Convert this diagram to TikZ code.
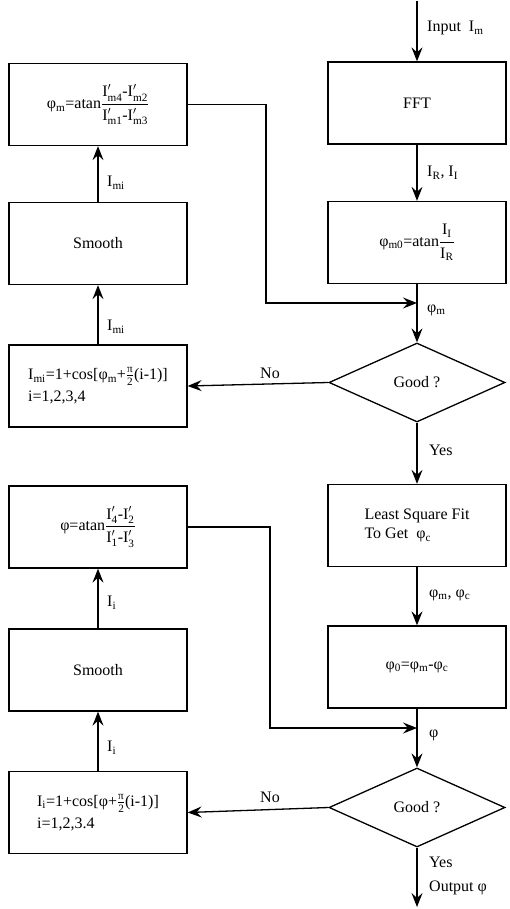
\documentclass[tikz,border=0pt]{standalone}
\usepackage{fontspec}
\setmainfont{Liberation Serif}
\usepackage{amsmath}
\usetikzlibrary{arrows.meta, shapes.geometric}
\newcommand{\Ipr}[1]{\mathrm{I}'_{\mathrm{#1}}}
\newcommand{\halfpi}{\frac{\text{π}}{\text{2}}}

\begin{document}
\begin{tikzpicture}[x=1pt, y=-1pt,
  stepbox/.style={draw, line width=1.3pt, minimum width=178pt, minimum height=82pt, inner sep=3pt, font=\fontsize{16}{19}\selectfont, align=center},
  decision/.style={diamond, draw, line width=1.3pt, minimum width=176pt, minimum height=79pt, aspect=2.2, inner sep=0pt, font=\fontsize{16}{18}\selectfont},
  lbl/.style={font=\fontsize{16}{18}\selectfont, inner sep=1pt},
  flow/.style={line width=1.3pt, -{Stealth[length=14pt, width=11pt, inset=5pt]}},
]
  \useasboundingbox (0,0) rectangle (509,909);

  % Main column
  \coordinate (in) at (417,1);
  \node[stepbox] (fft) at (417,103) {FFT};
  \node[stepbox] (phim0) at (417,242.5) {φ\textsubscript{m0}=atan$\dfrac{\text{I\textsubscript{I}}}{\text{I\textsubscript{R}}}$};
  \node[decision] (good1) at (417,382.5) {Good ?};
  \node[stepbox, align=left] (lsf) at (417,525.5) {Least Square Fit\\To Get\ \ φ\textsubscript{c}};
  \node[stepbox] (phi0) at (417,667) {φ\textsubscript{0}=φ\textsubscript{m}-φ\textsubscript{c}};
  \node[decision] (good2) at (417,807.5) {Good ?};
  \coordinate (out) at (417,907);

  % Left column
  \node[stepbox] (phim) at (98,104.5) {φ\textsubscript{m}=atan$\dfrac{\Ipr{m4}\text{-}\Ipr{m2}}{\Ipr{m1}\text{-}\Ipr{m3}}$};
  \node[stepbox] (smooth1) at (98,243.5) {Smooth};
  \node[stepbox, align=left] (imi) at (98,386) {I\textsubscript{mi}=1+cos[φ\textsubscript{m}+$\halfpi$(i-1)]\\[3pt]i=1,2,3,4};
  \node[stepbox] (phi) at (98,527) {φ=atan$\dfrac{\Ipr{4}\text{-}\Ipr{2}}{\Ipr{1}\text{-}\Ipr{3}}$};
  \node[stepbox] (smooth2) at (98,670) {Smooth};
  \node[stepbox, align=left] (ii) at (98,812.5) {I\textsubscript{i}=1+cos[φ+$\halfpi$(i-1)]\\[3pt]i=1,2,3.4};

  % Junctions of the feedback lines
  \coordinate (j1) at (417,303);
  \coordinate (k1) at (266,303);
  \coordinate (j2) at (417,728);
  \coordinate (k2) at (270,728);

  % Main flow
  \draw[flow] (in) -- (fft);
  \draw[flow] (fft) -- (phim0);
  \draw[flow] (phim0) -- (good1);
  \draw[flow] (good1) -- (lsf);
  \draw[flow] (lsf) -- (phi0);
  \draw[flow] (phi0) -- (good2);
  \draw[flow] (good2) -- (out);

  % Loops
  \draw[flow] (good1.west) -- (imi.east);
  \draw[flow] (imi) -- (smooth1);
  \draw[flow] (smooth1) -- (phim);
  \draw[flow] (phim.east) -| (k1) -- (j1);
  \draw[flow] (good2.west) -- (ii.east);
  \draw[flow] (ii) -- (smooth2);
  \draw[flow] (smooth2) -- (phi);
  \draw[flow] (phi.east) -| (k2) -- (j2);

  % Labels
  \node[lbl, anchor=west] (lin) at (426,28) {Input\ \ I\textsubscript{m}};
  \node[lbl, anchor=west] (lri) at (426,173) {I\textsubscript{R}, I\textsubscript{I}};
  \node[lbl, anchor=west] (lphim) at (426,310) {φ\textsubscript{m}};
  \node[lbl, anchor=west] (lyes1) at (428,450) {Yes};
  \node[lbl, anchor=west] (lmc) at (428,595) {φ\textsubscript{m}, φ\textsubscript{c}};
  \node[lbl, anchor=west] (lphi) at (428,735) {φ};
  \node[lbl, anchor=west] (lyes2) at (428,862) {Yes};
  \node[lbl, anchor=west] (lout) at (428,888) {Output φ};
  \node[lbl] (lno1) at (270,373) {No};
  \node[lbl] (lno2) at (270,797) {No};
  \node[lbl, anchor=west] (lmi1) at (106,183) {I\textsubscript{mi}};
  \node[lbl, anchor=west] (lmi2) at (106,327) {I\textsubscript{mi}};
  \node[lbl, anchor=west] (li1) at (106,603) {I\textsubscript{i}};
  \node[lbl, anchor=west] (li2) at (106,748) {I\textsubscript{i}};
\end{tikzpicture}
\end{document}
